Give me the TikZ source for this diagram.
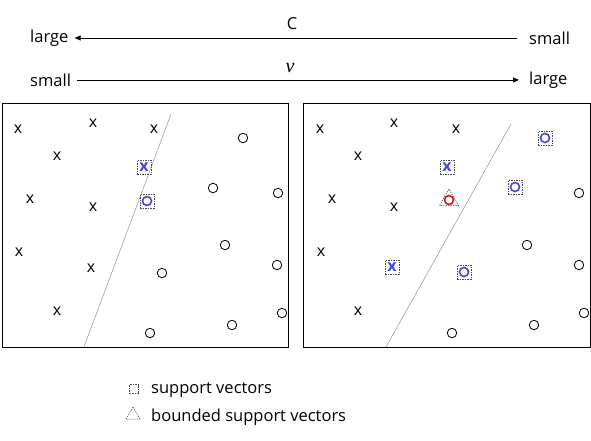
\documentclass[tikz,border=0pt]{standalone}
\usepackage{fontspec}
\setmainfont{Open Sans}
\newfontfamily\greekfont{Liberation Serif}
\usetikzlibrary{calc,arrows.meta,shapes.geometric}

\definecolor{svblue}{RGB}{70,70,225}
\definecolor{bsvred}{RGB}{225,20,20}

\tikzset{
  lbl/.style={inner sep=0pt},
  xmark/.style={inner sep=0pt,font=\fontsize{16}{16}\selectfont},
  omark/.style={circle,draw,inner sep=0pt,minimum size=9.5pt,line width=0.8pt},
  svx/.style={xmark,text=svblue,font=\fontsize{16}{16}\selectfont\bfseries},
  svo/.style={omark,draw=svblue,line width=1.6pt,minimum size=9pt},
  bsvo/.style={omark,draw=bsvred,line width=1.6pt,minimum size=9pt},
  svbox/.style={rectangle,draw=black!70,dash pattern=on 1.5pt off 1pt,inner sep=0pt,minimum size=14pt,line width=0.5pt},
  bsvtri/.style={regular polygon,regular polygon sides=3,draw=black!70,dash pattern=on 1.5pt off 1pt,inner sep=0pt,minimum size=22pt,line width=0.5pt},
  scale arrow/.style={-{Triangle[length=6pt,width=5pt]},line width=0.6pt}
}

\begin{document}
\begin{tikzpicture}[x=1pt,y=-1pt,font=\fontsize{16.5}{19}\selectfont]
\useasboundingbox (0,0) rectangle (591,441);

% C and nu scales
\node[lbl,anchor=west] (cLarge) at (30,38) {large};
\node[lbl,anchor=west] (cSmall) at (529,38) {small};
\node[lbl] (cName) at (292,24) {C};
\draw[scale arrow] ($(cSmall.west)+(-12,0)$) -- ($(cLarge.east)+(6,0)$);
\node[lbl,anchor=west] (nSmall) at (30,80) {small};
\node[lbl,anchor=west] (nLarge) at (529,80) {large};
\node[lbl] (nName) at (290,68) {\greekfont\itshape\fontsize{20}{20}\selectfont ν};
\draw[scale arrow] ($(nSmall.east)+(6,0)$) -- ($(nLarge.west)+(-10,0)$);

% left panel
\draw[line width=0.8pt] (2,103) rectangle (288,347);
\draw[gray] (171,114) -- (84,347);
\foreach \px/\py [count=\i] in {18/129,93/123,154/129,57/156,30/199,93/207,19/252,91/268,57/311}
  \node[xmark] (lx\i) at (\px,\py) {x};
\foreach \px/\py [count=\i] in {243/138,213/188,278/193,225/245,277/265,162/273,282/313,232/325,150/333}
  \node[omark] (lo\i) at (\px,\py) {};
\node[svx] (lsvx) at (144,167) {x};
\node[svbox] at (lsvx) {};
\node[svo] (lsvo) at (147,201) {};
\node[svbox] at (lsvo) {};

% right panel
\draw[line width=0.8pt] (303,103) rectangle (590,347);
\draw[gray] (511,124) -- (386,347);
\foreach \px/\py [count=\i] in {320/129,394/123,456/129,358/156,332/199,394/207,321/252,358/311}
  \node[xmark] (rx\i) at (\px,\py) {x};
\foreach \px/\py [count=\i] in {579/193,527/245,579/265,584/313,534/325,452/333}
  \node[omark] (ro\i) at (\px,\py) {};
\foreach \px/\py [count=\i] in {447/167,392/267}{
  \node[svx] (rsvx\i) at (\px,\py) {x};
  \node[svbox] at (rsvx\i) {};
}
\foreach \px/\py [count=\i] in {545/138,515/187,464/272}{
  \node[svo] (rsvo\i) at (\px,\py) {};
  \node[svbox] at (rsvo\i) {};
}
\node[bsvo] (rbsv) at (449,200) {};
\node[bsvtri] at (rbsv) {};

% legend
\node[svbox,minimum size=9pt] (legBox) at (134,389) {};
\node[lbl,anchor=west] (legBoxText) at (151,390) {support vectors};
\node[bsvtri,minimum size=16pt] (legTri) at (133,415) {};
\node[lbl,anchor=west] (legTriText) at (151,417) {bounded support vectors};
\end{tikzpicture}
\end{document}
